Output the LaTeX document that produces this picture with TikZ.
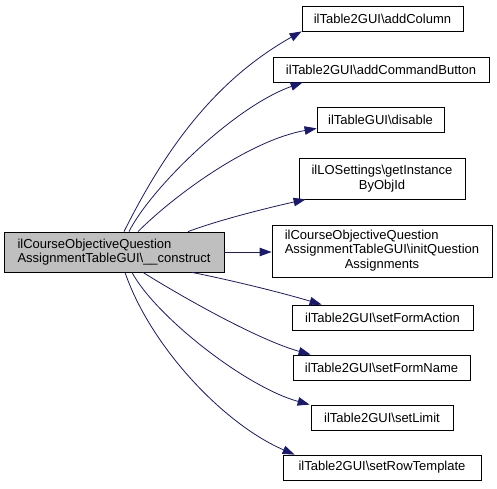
\documentclass[tikz,border=0pt]{standalone}
\usepackage{fontspec}
\setmainfont{Liberation Sans}
\usepackage{tikz}
\usetikzlibrary{arrows.meta}
\definecolor{edgeblue}{HTML}{191970}
\definecolor{rootgray}{HTML}{BFBFBF}

\begin{document}
\begin{tikzpicture}[x=1pt, y=-1pt,
  every node/.style={font=\fontsize{13}{14.5}\selectfont},
  >={Triangle[length=12pt,width=8.5pt]},
  fn/.style={draw=black, line width=0.8pt, inner sep=2pt, minimum height=25pt, align=center},
  root/.style={fn, fill=rootgray, align=left},
  call/.style={->, draw=edgeblue, line width=0.8pt}
]
\useasboundingbox (0,0) rectangle (497,488);

\node[root, minimum width=220pt, minimum height=40pt] (construct) at (114,252)
  {ilCourseObjectiveQuestion\\AssignmentTableGUI\textbackslash\_\_construct};

\node[fn, minimum width=161pt] (addcol) at (382.5,18.5) {ilTable2GUI\textbackslash addColumn};
\node[fn, minimum width=216pt] (addcmd) at (381,69.5) {ilTable2GUI\textbackslash addCommandButton};
\node[fn, minimum width=127pt] (disable) at (380.5,119.5) {ilTableGUI\textbackslash disable};
\node[fn, minimum width=166pt, minimum height=41pt] (inst) at (382,178.5)
  {ilLOSettings\textbackslash getInstance\\ByObjId};
\node[fn, minimum width=220pt, minimum height=52pt] (initq) at (382,251)
  {\begin{tabular}{@{}l@{}}ilCourseObjectiveQuestion\\AssignmentTableGUI\textbackslash initQuestion\\
   \multicolumn{1}{@{}c@{}}{Assignments}\end{tabular}};
\node[fn, minimum width=181pt] (setfa) at (382.5,317.5) {ilTable2GUI\textbackslash setFormAction};
\node[fn, minimum width=177pt] (setfn) at (381.5,367.5) {ilTable2GUI\textbackslash setFormName};
\node[fn, minimum width=142pt] (setlim) at (382,417.5) {ilTable2GUI\textbackslash setLimit};
\node[fn, minimum width=198pt] (setrow) at (382,467.5) {ilTable2GUI\textbackslash setRowTemplate};

% calls going up
\draw[call] ([xshift=10pt]construct.north) .. controls +(41,-82) and +(-87,49) .. (addcol.south west);
\draw[call] ([xshift=15pt]construct.north) .. controls +(21,-42) and +(-70,25) .. ([xshift=30pt]addcmd.south west);
\draw[call] ([xshift=24pt]construct.north) .. controls +(37,-37) and +(-67,12) .. ([yshift=4pt]disable.south west);
\draw[call] ([xshift=74pt]construct.north) .. controls +(32,-12) and +(-36,8) .. ([xshift=7pt]inst.south west);
% straight call
\draw[call] (construct.east) -- (construct.east -| initq.west);
% calls going down
\draw[call] ([xshift=78pt]construct.south) .. controls +(40,8) and +(-40,-12) .. ([xshift=30pt]setfa.north west);
\draw[call] ([xshift=29pt]construct.south) .. controls +(40,25) and +(-53,-15) .. ([xshift=18pt]setfn.north west);
\draw[call] ([xshift=18pt]construct.south) .. controls +(23,43) and +(-65,-18) .. ([xshift=-1pt]setlim.north west);
\draw[call] ([xshift=11pt]construct.south) .. controls +(25,73) and +(-72,-31) .. ([xshift=12pt]setrow.north west);
\end{tikzpicture}
\end{document}
